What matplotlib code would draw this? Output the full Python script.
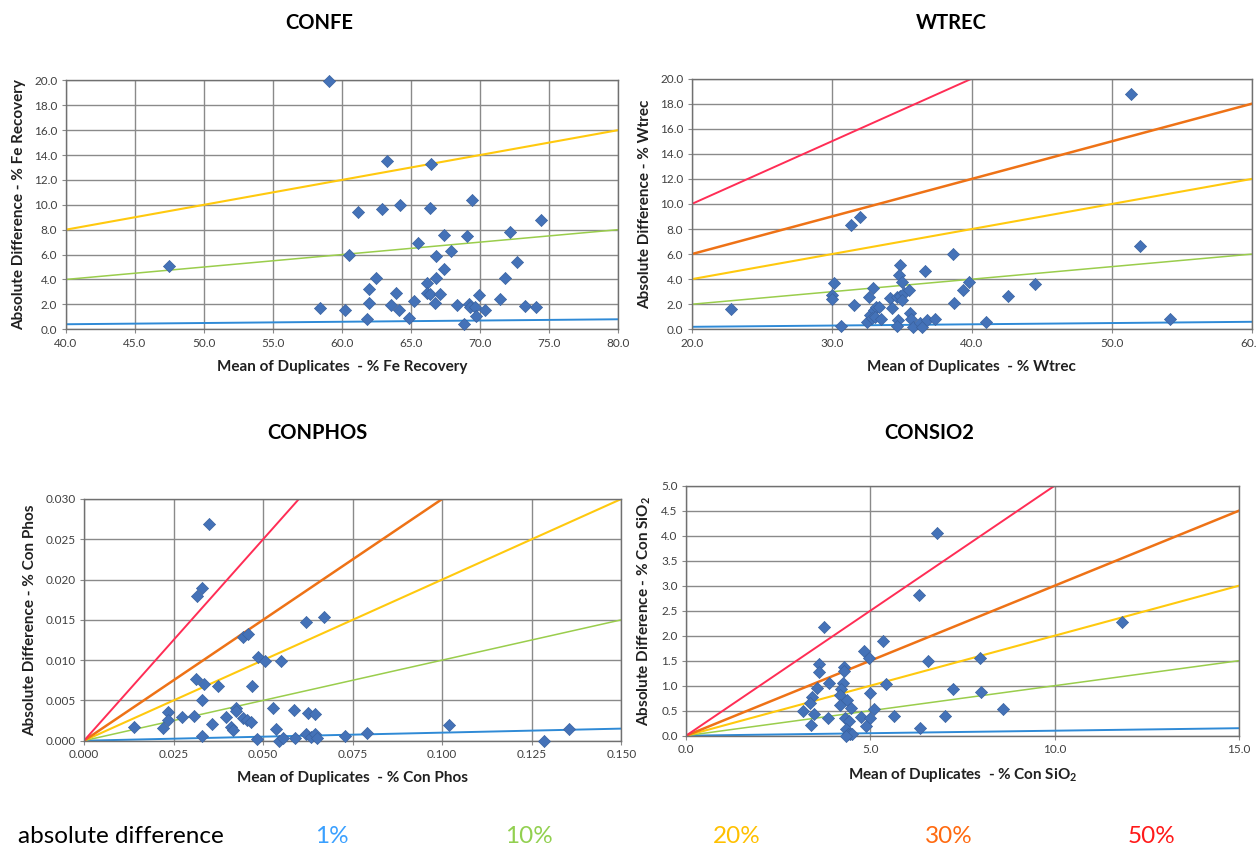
import matplotlib
matplotlib.use("Agg")
import matplotlib.pyplot as plt
import numpy as np
from matplotlib.ticker import FormatStrFormatter, MultipleLocator

plt.rcParams['font.family'] = ['Lato', 'DejaVu Sans']

# ---------------- data ----------------
confe_x = [59.1, 47.5, 63.3, 66.5, 61.2, 62.95, 64.25, 66.4, 69.45, 74.45, 72.2, 67.4, 69.1, 60.55,
           65.5, 67.9, 66.85, 72.7, 67.4, 62.5, 66.85, 71.8, 66.2, 62.0, 63.95, 66.15, 66.4, 67.1,
           69.95, 71.45, 65.25, 62.0, 66.75, 63.55, 68.35, 69.2, 69.3, 69.65, 73.25, 74.05, 58.45,
           60.25, 64.15, 70.35, 69.75, 61.85, 64.85, 68.85]
confe_y = [19.95, 5.1, 13.55, 13.25, 9.4, 9.65, 10.0, 9.75, 10.35, 8.75, 7.85, 7.6, 7.5, 5.95,
           6.9, 6.3, 5.9, 5.42, 4.85, 4.08, 4.15, 4.12, 3.68, 3.22, 2.88, 2.9, 2.8, 2.85,
           2.75, 2.45, 2.25, 2.1, 2.1, 1.93, 1.95, 2.03, 1.76, 1.82, 1.9, 1.76, 1.7,
           1.57, 1.54, 1.52, 1.05, 0.86, 0.9, 0.4]

wtrec_x = [22.8, 31.35, 32.0, 30.2, 30.05, 30.05, 30.65, 31.6, 32.95, 32.65, 32.5, 32.75, 33.0,
           33.2, 33.4, 32.85, 33.1, 33.55, 34.15, 34.3, 34.85, 34.8, 35.05, 34.65, 34.9, 35.15,
           35.55, 35.0, 34.75, 34.7, 35.6, 35.7, 35.8, 36.3, 36.45, 36.65, 36.8, 37.4, 38.65,
           38.75, 39.4, 39.8, 41.0, 42.6, 44.5, 51.4, 52.0, 54.15]
wtrec_y = [1.6, 8.3, 9.0, 3.67, 2.75, 2.4, 0.3, 1.95, 3.27, 2.6, 0.6, 1.15, 1.55,
           1.75, 1.78, 0.88, 1.0, 0.8, 2.47, 1.68, 5.13, 4.35, 3.8, 2.6, 2.66, 2.87,
           3.14, 2.34, 0.75, 0.27, 1.28, 0.8, 0.16, 0.48, 0.16, 4.68, 0.75, 0.8, 5.98,
           2.1, 3.14, 3.8, 0.6, 2.63, 3.63, 18.8, 6.68, 0.8]

phos_x = [0.0350, 0.0330, 0.0315, 0.0619, 0.0671, 0.0445, 0.0457, 0.0485, 0.0506, 0.0549,
          0.0312, 0.0336, 0.0373, 0.0468, 0.0328, 0.0425, 0.0424, 0.0527, 0.0587, 0.0626,
          0.0646, 0.0234, 0.0235, 0.0273, 0.0308, 0.0396, 0.0445, 0.0454, 0.0465, 0.0356,
          0.0409, 0.0417, 0.0140, 0.0220, 0.0536, 0.0330, 0.0483, 0.0545, 0.0555, 0.0589,
          0.0620, 0.0633, 0.0645, 0.0650, 0.0729, 0.0791, 0.1019, 0.1284, 0.1355]
phos_y = [0.0269, 0.0189, 0.0180, 0.0147, 0.0153, 0.0129, 0.0133, 0.0104, 0.0099, 0.0099,
          0.0077, 0.0070, 0.0068, 0.0068, 0.0051, 0.0041, 0.0037, 0.0041, 0.0038, 0.0034,
          0.0033, 0.0036, 0.0026, 0.0030, 0.0031, 0.0030, 0.0028, 0.0026, 0.0023, 0.0021,
          0.0017, 0.0013, 0.0017, 0.0016, 0.0014, 0.0006, 0.0002, 0.0000, 0.0003, 0.0003,
          0.0008, 0.0004, 0.0008, 0.0003, 0.0006, 0.0010, 0.0019, 0.0000, 0.0014]

sio_x = [6.8, 6.31, 3.74, 5.34, 4.84, 4.95, 6.57, 7.97, 3.62, 3.6, 4.29, 4.28, 3.55, 3.87,
         4.26, 5.43, 4.98, 4.21, 7.24, 7.99, 4.18, 3.42, 3.35, 4.17, 4.37, 4.47, 3.17, 5.09,
         8.6, 3.46, 3.85, 4.75, 5.0, 5.63, 7.02, 4.32, 4.43, 3.39, 4.87, 6.34, 4.33, 4.38,
         4.45, 4.51, 4.33, 11.82]
sio_y = [4.05, 2.82, 2.17, 1.9, 1.7, 1.56, 1.5, 1.55, 1.43, 1.28, 1.37, 1.29, 0.95, 1.06,
         1.05, 1.03, 0.85, 0.93, 0.93, 0.88, 0.81, 0.77, 0.66, 0.61, 0.71, 0.55, 0.49, 0.53,
         0.53, 0.43, 0.35, 0.37, 0.35, 0.39, 0.39, 0.35, 0.29, 0.21, 0.19, 0.15, 0.13, 0.03,
         0.03, 0.03, 0.0, 2.28]

pct_levels = [1, 10, 20, 30, 50]
pct_labels = ["1%", "10%", "20%", "30%", "50%"]
line_colors = ["#2f8ad6", "#9acd4c", "#ffc90e", "#ee7216", "#ff2d55"]
line_widths = [1.4, 1.1, 1.5, 1.8, 1.4]
legend_colors = ["#3aa0ff", "#92d050", "#ffc000", "#ff6a10", "#ff1a1a"]

marker_color = "#4472b8"
grid_color = "#8a8a8a"

fig = plt.figure(figsize=(12.56, 8.47), dpi=100)

panels = [
    dict(title="CONFE", x=confe_x, y=confe_y, rect=[0.0523, 0.6113, 0.4395, 0.2937],
         xlim=(40, 80), ylim=(0, 20), xstep=5, ystep=2, xfmt="%.1f", yfmt="%.1f",
         xlabel="Mean of Duplicates  - % Fe Recovery",
         ylabel="Absolute Difference - % Fe Recovery", nlines=3,
         title_xy=(0.254, 0.973)),
    dict(title="WTREC", x=wtrec_x, y=wtrec_y, rect=[0.5507, 0.6112, 0.4459, 0.2959],
         xlim=(20, 60), ylim=(0, 20), xstep=10, ystep=2, xfmt="%.1f", yfmt="%.1f",
         xlabel="Mean of Duplicates  - % Wtrec",
         ylabel="Absolute Difference - % Wtrec", nlines=5,
         title_xy=(0.757, 0.973)),
    dict(title="CONPHOS", x=phos_x, y=phos_y, rect=[0.0669, 0.1255, 0.4278, 0.2854],
         xlim=(0, 0.15), ylim=(0, 0.03), xstep=0.025, ystep=0.005, xfmt="%.3f", yfmt="%.3f",
         xlabel="Mean of Duplicates  - % Con Phos",
         ylabel="Absolute Difference - % Con Phos", nlines=5,
         title_xy=(0.253, 0.489)),
    dict(title="CONSIO2", x=sio_x, y=sio_y, rect=[0.5462, 0.1314, 0.4403, 0.2952],
         xlim=(0, 15), ylim=(0, 5), xstep=5, ystep=0.5, xfmt="%.1f", yfmt="%.1f",
         xlabel=r"Mean of Duplicates  - % Con SiO$_\mathregular{2}$",
         ylabel=r"Absolute Difference - % Con SiO$_\mathregular{2}$", nlines=5,
         title_xy=(0.740, 0.489)),
]

for p in panels:
    ax = fig.add_axes(p["rect"])
    ax.set_xlim(*p["xlim"])
    ax.set_ylim(*p["ylim"])
    ax.xaxis.set_major_locator(MultipleLocator(p["xstep"]))
    ax.yaxis.set_major_locator(MultipleLocator(p["ystep"]))
    ax.xaxis.set_major_formatter(FormatStrFormatter(p["xfmt"]))
    ax.yaxis.set_major_formatter(FormatStrFormatter(p["yfmt"]))
    ax.grid(True, color=grid_color, linewidth=1.0)
    ax.set_axisbelow(True)
    for s in ax.spines.values():
        s.set_color("#707070")
        s.set_linewidth(1.0)
    ax.tick_params(axis="both", labelsize=8.5, colors="#404040", length=3,
                   color=grid_color, pad=3)
    xs = np.array(p["xlim"], dtype=float)
    for i in range(p["nlines"]):
        ax.plot(xs, xs * pct_levels[i] / 100.0, color=line_colors[i],
                linewidth=line_widths[i], zorder=2)
    ax.scatter(p["x"], p["y"], marker="D", s=38, color=marker_color,
               edgecolors="#3a62a0", linewidths=0.5, zorder=3, clip_on=False)
    ax.set_xlabel(p["xlabel"], fontsize=11, fontweight="bold", color="#202020", labelpad=8)
    ax.set_ylabel(p["ylabel"], fontsize=11, fontweight="bold", color="#202020", labelpad=6)
    fig.text(p["title_xy"][0], p["title_xy"][1], p["title"], fontsize=14.5,
             fontweight="bold", ha="center", va="center", color="black")

# legend row
fig.text(0.014, 0.005, "absolute difference", fontsize=17.5, color="black",
         ha="left", va="baseline")
leg_x = [0.2508, 0.402, 0.5677, 0.7365, 0.898]
for i in range(len(pct_labels)):
    fig.text(leg_x[i], 0.005, pct_labels[i], fontsize=17.5, color=legend_colors[i],
             ha="left", va="baseline")

fig.savefig("out.png", dpi=100, facecolor="white")
